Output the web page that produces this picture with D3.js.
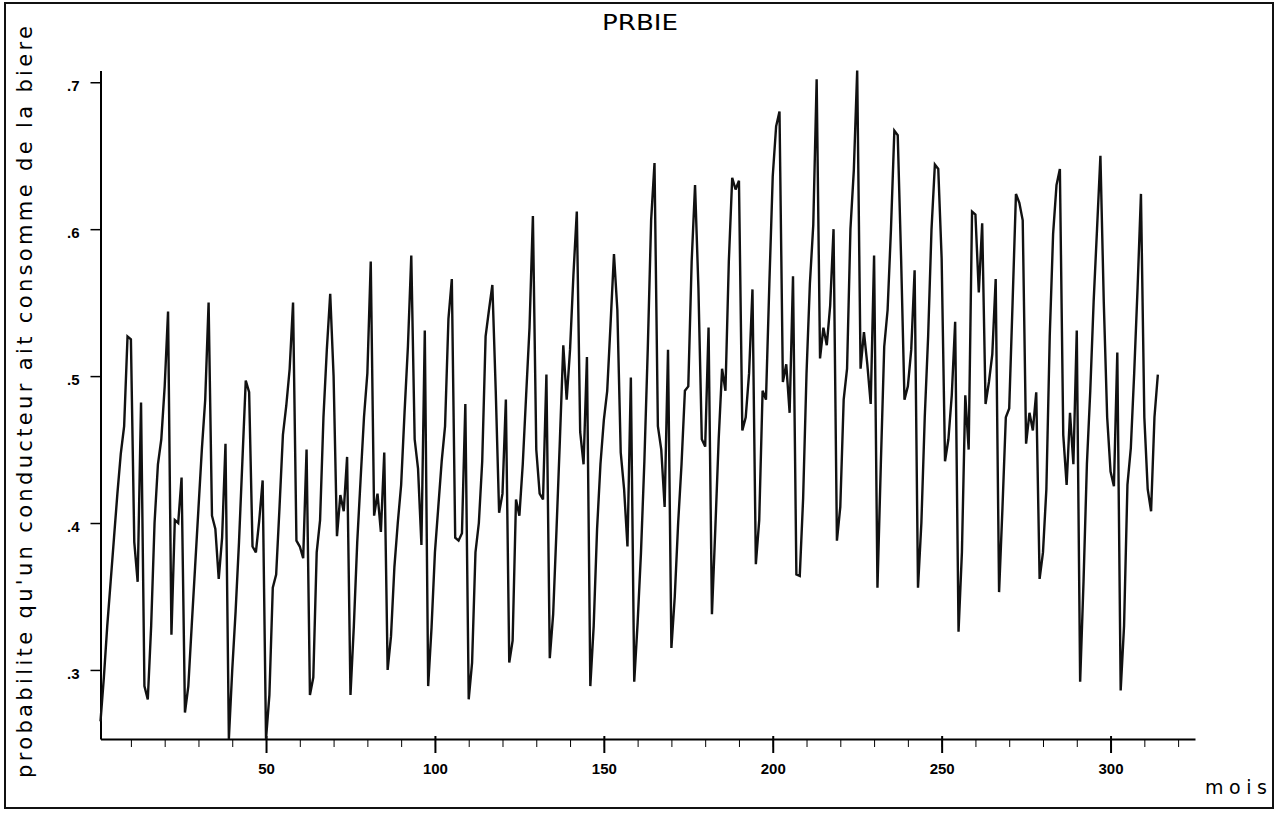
<!DOCTYPE html>
<html>
<head>
<meta charset="utf-8">
<script src="https://cdn.jsdelivr.net/npm/d3@7"></script>
<style>
  body { margin: 0; background: #fff; }
  .tick text { font-family: "Liberation Sans", Arial, sans-serif; font-weight: bold; font-size: 15px; }
</style>
</head>
<body>
<script>
///////////////////////////
// DATA (one value per month)
var title = "PRBIE";
var yLabel = "probabilite qu'un conducteur ait consomme de la biere";
var xLabel = "mois";
var xMajorTicks = [50, 100, 150, 200, 250, 300];
var xMinorTicks = d3.range(10, 330, 10);
var yTicks = [0.3, 0.4, 0.5, 0.6, 0.7];

var prbie = [
  .265,.295,.33,.36,.39,.42,.447,.466,.527,.525,.387,.36,
  .482,.289,.28,.33,.40,.44,.457,.493,.544,.324,.402,.40,
  .431,.271,.289,.33,.37,.41,.45,.484,.55,.405,.396,.362,
  .39,.454,.253,.30,.34,.387,.442,.497,.489,.384,.38,.402,
  .429,.253,.283,.356,.365,.411,.46,.48,.505,.55,.388,.384,
  .376,.45,.283,.295,.38,.402,.472,.518,.556,.50,.391,.419,
  .408,.445,.283,.33,.387,.43,.472,.502,.578,.405,.42,.394,
  .448,.30,.323,.37,.40,.426,.475,.52,.582,.457,.437,.385,
  .531,.289,.329,.38,.411,.442,.466,.539,.566,.39,.388,.393,
  .481,.28,.305,.38,.40,.442,.527,.545,.562,.49,.407,.42,
  .484,.305,.32,.416,.405,.44,.487,.533,.609,.45,.42,.416,
  .501,.308,.338,.396,.457,.521,.484,.518,.569,.612,.462,.44,
  .513,.289,.33,.396,.44,.47,.49,.536,.583,.545,.448,.423,
  .384,.499,.292,.332,.38,.442,.518,.606,.645,.466,.45,.411,
  .518,.315,.35,.40,.44,.49,.493,.578,.63,.56,.457,.452,
  .533,.338,.396,.457,.505,.49,.578,.635,.627,.633,.463,.472,
  .502,.559,.372,.402,.49,.484,.563,.636,.67,.68,.496,.508,
  .475,.568,.365,.364,.417,.502,.563,.603,.702,.512,.533,.521,
  .548,.60,.388,.411,.484,.505,.60,.64,.708,.505,.53,.508,
  .481,.582,.356,.44,.52,.545,.60,.667,.664,.58,.484,.493,
  .518,.572,.356,.40,.472,.527,.60,.644,.641,.58,.442,.457,
  .487,.537,.326,.38,.487,.45,.612,.61,.557,.604,.481,.496,
  .515,.566,.353,.41,.472,.478,.55,.624,.618,.606,.454,.475,
  .463,.489,.362,.38,.423,.527,.597,.63,.641,.46,.426,.475,
  .44,.531,.292,.36,.44,.49,.551,.60,.65,.55,.472,.435,
  .425,.516,.286,.33,.426,.451,.502,.56,.624,.472,.423,.408,
  .472,.501
];
var mois = prbie.map(function(d, i){ return i + 1; });

///////////////////////////
// CONSTRUCT SVG
var width = 1283, height = 814;

var svg = d3.select("body")
  .append("svg")
  .attr("width", width)
  .attr("height", height);

// frame round the whole plot
svg.append("rect")
  .attr("x", 5).attr("y", 3)
  .attr("width", 1268).attr("height", 805)
  .attr("fill", "none")
  .attr("stroke", "#111")
  .attr("stroke-width", 2);

// axis runs from first month to 325, values from min to max (like the SAS plot)
var x = d3.scaleLinear().domain([1, 325]).range([100.5, 1195]);
var y = d3.scaleLinear().domain(d3.extent(prbie)).range([739, 70.5]);

///////////////////////////
// AXES
var fmtY = function(d){ return d3.format(".1f")(d).replace(/^0/, ""); };

svg.append("g")
  .attr("transform", "translate(0,739)")
  .call(d3.axisBottom(x).tickValues(xMinorTicks).tickSize(8).tickSizeOuter(0).tickFormat(""))
  .call(function(g){ g.select(".domain").attr("stroke-width", 2); });

svg.append("g")
  .attr("transform", "translate(0,736)")
  .call(d3.axisBottom(x).tickValues(xMajorTicks).tickSize(17).tickPadding(10).tickSizeOuter(0))
  .call(function(g){
    g.select(".domain").remove();
    g.selectAll(".tick line").attr("stroke-width", 2);
  });

svg.append("g")
  .attr("transform", "translate(100.5,0)")
  .call(d3.axisLeft(y).tickValues(yTicks).tickSize(10).tickPadding(11).tickSizeOuter(0).tickFormat(fmtY))
  .call(function(g){
    g.select(".domain").attr("stroke-width", 2);
    g.selectAll(".tick line").attr("stroke-width", 1.5);
    g.selectAll(".tick text").attr("dy", "0.55em");
  });

///////////////////////////
// LINE
var line = d3.line()
  .x(function(d, i){ return x(mois[i]); })
  .y(function(d){ return y(d); });

svg.append("path")
  .datum(prbie)
  .attr("d", line)
  .attr("fill", "none")
  .attr("stroke", "#111")
  .attr("stroke-width", 2.4)
  .attr("stroke-linejoin", "miter")
  .attr("stroke-miterlimit", 3);

///////////////////////////
// TEXTS
svg.append("text")
  .attr("x", 640).attr("y", 30)
  .attr("text-anchor", "middle")
  .attr("font-family", "DejaVu Sans, sans-serif")
  .attr("font-size", 22)
  .attr("textLength", 76)
  .attr("lengthAdjust", "spacingAndGlyphs")
  .text(title);

svg.append("text")
  .attr("transform", "translate(32,778) rotate(-90)")
  .attr("font-family", "DejaVu Sans, sans-serif")
  .attr("font-size", 21)
  .attr("textLength", 752)
  .attr("lengthAdjust", "spacing")
  .text(yLabel);

svg.append("text")
  .attr("x", 1205).attr("y", 794)
  .attr("font-family", "DejaVu Sans, sans-serif")
  .attr("font-size", 19)
  .attr("textLength", 62)
  .attr("lengthAdjust", "spacing")
  .text(xLabel);
</script>
</body>
</html>
